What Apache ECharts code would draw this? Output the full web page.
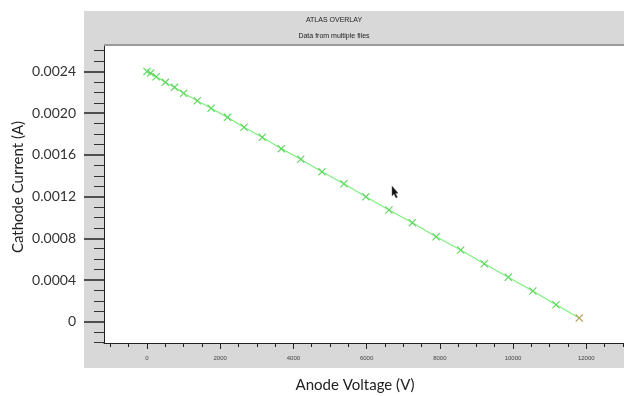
<!DOCTYPE html>
<html>
<head>
<meta charset="utf-8">
<title>ATLAS OVERLAY</title>
<script src="https://cdn.jsdelivr.net/npm/echarts@6/dist/echarts.min.js"></script>
<style>
  html, body { margin: 0; padding: 0; background: #fff; }
  #main { width: 624px; height: 396px; }
</style>
</head>
<body>
<div id="main"></div>
<script>
// anode voltage (V) and cathode current (A)
var voltage = [0, 100, 250, 500, 750, 1000, 1375, 1750, 2200, 2650, 3150, 3670, 4200,
               4780, 5380, 5980, 6610, 7250, 7900, 8570, 9215, 9870, 10540, 11175, 11810];
var current = [0.0024, 0.002386, 0.00235, 0.002296, 0.002248, 0.002191, 0.00212, 0.002047,
               0.00196, 0.001865, 0.001769, 0.00166, 0.001558, 0.001439, 0.001324, 0.001199,
               0.001071, 0.00095, 0.000815, 0.000688, 0.000556, 0.000426, 0.000294, 0.000163, 0.000036];

var xTicks = [0, 2000, 4000, 6000, 8000, 10000, 12000];
var xMinor = [-1000, -500, 500, 1000, 1500, 2500, 3000, 3500, 4500, 5000, 5500, 6500, 7000, 7500,
              8500, 9000, 9500, 10500, 11000, 11500, 12500, 13000];
var yTicks = [0, 0.0004, 0.0008, 0.0012, 0.0016, 0.002, 0.0024];
var yMinor = [-0.0002, -0.0001, 0.0001, 0.0002, 0.0003, 0.0005, 0.0006, 0.0007, 0.0009, 0.001,
              0.0011, 0.0013, 0.0014, 0.0015, 0.0017, 0.0018, 0.0019, 0.0021, 0.0022, 0.0023,
              0.0025, 0.0026];

var points = voltage.map(function (v, i) { return [v, current[i]]; });
// last marker is drawn over by a second file's marker
points[points.length - 1] = { value: points[points.length - 1], itemStyle: { color: '#b09a5a' } };

var xr = [-1175, 13032];
var yr = [-0.000204, 0.002654];

var chart = echarts.init(document.getElementById('main'));

var option = {
  animation: false,
  backgroundColor: '#fff',
  grid: {
    left: 104, right: 0, top: 45, bottom: 53,
    show: true, backgroundColor: '#fff', borderWidth: 0
  },
  xAxis: [{
    type: 'value', min: xr[0], max: xr[1],
    splitLine: { show: false },
    axisLine: { show: true, onZero: false, lineStyle: { color: '#222', width: 1 } },
    axisTick: { show: true, customValues: xTicks, length: 6, lineStyle: { color: '#222' } },
    axisLabel: {
      customValues: xTicks, margin: 12, fontSize: 6, color: '#444', fontFamily: 'Liberation Sans',
      formatter: function (v) { return String(Math.round(v)); }
    }
  }, {
    type: 'value', min: xr[0], max: xr[1], position: 'bottom',
    splitLine: { show: false },
    axisLine: { show: false, onZero: false },
    axisTick: { show: true, customValues: xMinor, length: 4, lineStyle: { color: '#222' } },
    axisLabel: { show: false }
  }],
  yAxis: [{
    type: 'value', min: yr[0], max: yr[1],
    splitLine: { show: false },
    axisLine: { show: true, onZero: false, lineStyle: { color: '#222', width: 1 } },
    axisTick: { show: true, customValues: yTicks, length: 20, lineStyle: { color: '#222', width: 1.5 } },
    axisLabel: {
      customValues: yTicks, margin: 28, fontSize: 14, color: '#333', fontFamily: 'Lato',
      formatter: function (v) { return Math.abs(v) < 1e-9 ? '0' : v.toFixed(4); }
    }
  }, {
    type: 'value', min: yr[0], max: yr[1], position: 'left',
    splitLine: { show: false },
    axisLine: { show: false, onZero: false },
    axisTick: { show: true, customValues: yMinor, length: 10, lineStyle: { color: '#333' } },
    axisLabel: { show: false }
  }],
  graphic: [
    { type: 'rect', z: -100, shape: { x: 84, y: 11, width: 540, height: 357 }, style: { fill: '#d8d8d8' } },
    { type: 'line', z: 100, shape: { x1: 104, y1: 45, x2: 624, y2: 45 }, style: { stroke: '#9a9a9a', lineWidth: 2 } },
    { type: 'text', x: 334, y: 20, style: { text: 'ATLAS OVERLAY', fontSize: 7, fill: '#222', fontFamily: 'Liberation Sans', align: 'center', verticalAlign: 'middle' } },
    { type: 'text', x: 334, y: 36, style: { text: 'Data from multiple files', fontSize: 7, fill: '#222', fontFamily: 'Liberation Sans', align: 'center', verticalAlign: 'middle' } },
    { type: 'text', x: 355, y: 385, style: { text: 'Anode Voltage (V)', fontSize: 15, fill: '#222', fontFamily: 'Lato', align: 'center', verticalAlign: 'middle' } },
    { type: 'text', x: 18, y: 187, rotation: Math.PI / 2, style: { text: 'Cathode Current (A)', fontSize: 15, fill: '#222', fontFamily: 'Lato', align: 'center', verticalAlign: 'middle' } },
    { type: 'polygon', z: 100, shape: { points: [[392, 186], [392, 196], [394, 194], [396, 198], [397.5, 197], [395.5, 193.5], [398, 193]] }, style: { fill: '#111', stroke: '#666', lineWidth: 0.5 } }
  ],
  series: [{
    type: 'line',
    data: points,
    symbol: 'path://M0,1 L1,0 L10,9 L9,10 Z M9,0 L10,1 L1,10 L0,9 Z',
    symbolSize: 8,
    symbolKeepAspect: true,
    showAllSymbol: true,
    itemStyle: { color: '#5cd65c' },
    lineStyle: { color: '#7cf07c', width: 1.2 },
    clip: false
  }]
};

chart.setOption(option);
</script>
</body>
</html>
